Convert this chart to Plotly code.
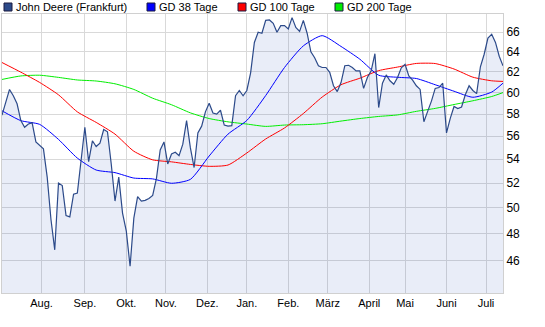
import pandas as pd
import plotly.graph_objects as go

# ---- trading calendar (Frankfurt) ----
holidays = ["2011-12-26", "2012-04-06", "2012-04-09", "2012-05-01"]
trading_days = pd.bdate_range("2011-07-01", "2012-07-13")
trading_days = trading_days[~trading_days.isin(pd.to_datetime(holidays))]

# ---- price series (every 2nd trading day), EUR ----
price = [
    57.9, 59.05, 60.3, 59.7, 58.95, 57.4, 56.8, 57.1, 57.2, 55.5,
    55.2, 54.9, 52.5, 49.1, 46.8, 52.0, 51.8, 49.4, 49.3, 51.1,
    51.2, 54.2, 56.8, 53.8, 55.6, 55.1, 55.4, 56.6, 56.4, 53.6,
    50.55, 52.5, 49.6, 48.2, 45.6, 49.2, 50.9, 50.55, 50.6, 50.75,
    51.0, 52.4, 54.8, 55.5, 53.6, 54.45, 54.6, 54.3, 55.3, 57.4,
    55.0, 53.3, 56.3, 56.9, 58.2, 59.0, 58.1, 58.0, 58.35, 57.0,
    56.9, 56.95, 59.7, 60.2, 59.7, 60.2, 61.9, 64.95, 66.0, 65.9,
    67.25, 67.3, 66.95, 66.0, 66.7, 66.7, 66.35, 67.55, 66.5, 66.1,
    67.25, 65.9, 64.0, 63.4, 62.6, 62.43, 62.43, 61.95, 60.65, 60.1,
    60.96, 62.6, 62.65, 62.43, 62.1, 62.1, 60.4, 61.45, 62.1, 63.8,
    58.6, 60.9, 61.7, 61.13, 60.8, 61.45, 62.4, 62.75, 61.6, 61.2,
    60.65, 60.3, 57.3, 58.25, 59.2, 60.4, 60.48, 60.9, 56.3, 57.6,
    58.7, 58.5, 58.65, 59.8, 60.65, 60.2, 59.9, 62.5, 63.75, 65.4,
    65.8, 64.95, 63.55, 62.6,
]
price_dates = trading_days[0::2][: len(price)]

# ---- moving averages (every 10th trading day + last day) ----
ma_idx = list(range(0, 261, 10)) + [len(trading_days) - 1]
ma_dates = trading_days[ma_idx]
gd38 = [58.30, 57.4, 57.06, 55.72, 54.1, 53.09, 52.87, 52.42, 52.35, 51.99,
        52.31, 54.28, 56.19, 57.42, 59.72, 62.43, 64.6, 65.65, 64.54, 63.25,
        61.67, 61.47, 61.35, 60.75, 60.13, 59.56, 60.05, 60.9]
gd100 = [62.92, 61.97, 60.97, 59.79, 58.2, 57.24, 56.19, 54.69, 53.95, 53.78,
         53.56, 53.4, 53.51, 54.54, 55.76, 56.74, 58.05, 59.58, 60.75, 61.38,
         62.12, 62.47, 62.83, 62.82, 62.28, 61.48, 61.13, 61.07]
gd200 = [61.26, 61.6, 61.67, 61.46, 61.21, 61.11, 60.84, 60.3, 59.47, 58.86,
         58.11, 57.59, 57.29, 57.09, 56.88, 57.0, 57.03, 57.12, 57.36, 57.59,
         57.78, 57.92, 58.25, 58.52, 58.88, 59.23, 59.63, 60.0]

# ---- axis labels ----
month_ticks = ["2011-08-01", "2011-09-01", "2011-10-03", "2011-11-01", "2011-12-01",
               "2012-01-02", "2012-02-01", "2012-03-01", "2012-04-02", "2012-05-02",
               "2012-06-01", "2012-07-02"]
month_labels = ["Aug.", "Sep.", "Okt.", "Nov.", "Dez.", "Jan.", "Feb.", "März",
                "April", "Mai", "Juni", "Juli"]
y_ticks = [46, 48, 50, 52, 54, 56, 58, 60, 62, 64, 66]

series_names = ["John Deere (Frankfurt)", "GD 38 Tage", "GD 100 Tage", "GD 200 Tage"]
series_colors = ["#2c4a8a", "#0000ff", "#ff0000", "#00ee00"]

fig = go.Figure()
fig.add_trace(go.Scatter(x=price_dates, y=price, mode="lines", fill="tozeroy",
                         fillcolor="rgba(40,80,190,0.10)", line=dict(width=0),
                         hoverinfo="skip", showlegend=False))
fig.add_trace(go.Scatter(x=ma_dates, y=gd200, mode="lines", name=series_names[3],
                         line=dict(color=series_colors[3], width=1, shape="spline",
                                   smoothing=0.6), showlegend=False))
fig.add_trace(go.Scatter(x=ma_dates, y=gd100, mode="lines", name=series_names[2],
                         line=dict(color=series_colors[2], width=1, shape="spline",
                                   smoothing=0.6), showlegend=False))
fig.add_trace(go.Scatter(x=ma_dates, y=gd38, mode="lines", name=series_names[1],
                         line=dict(color=series_colors[1], width=1, shape="spline",
                                   smoothing=0.6), showlegend=False))
fig.add_trace(go.Scatter(x=price_dates, y=price, mode="lines", name=series_names[0],
                         line=dict(color=series_colors[0], width=1.2), showlegend=False))

# ---- manual legend (pixel layout of reference) ----
L, R, T, B = 2, 503, 14, 293
W, H = R - L, B - T
def px(x):
    return (x - L) / W
def py(y):
    return (B - y) / H

sq_left = [4, 147, 238, 335]
for name, col, x0 in zip(series_names, series_colors, sq_left):
    fig.add_shape(type="rect", xref="paper", yref="paper",
                  x0=px(x0), x1=px(x0 + 8), y0=py(11), y1=py(3),
                  fillcolor=col, line=dict(color="#1a1a40", width=1))
    fig.add_annotation(xref="paper", yref="paper", x=px(x0 + 10), y=py(7.5),
                       text=name, showarrow=False, xanchor="left", yanchor="middle",
                       font=dict(family="Liberation Sans, Arial, sans-serif", size=11,
                                 color="#000000"))

fig.update_layout(
    width=545, height=327,
    margin=dict(l=L, r=545 - R, t=T, b=327 - B),
    paper_bgcolor="white", plot_bgcolor="white",
    font=dict(family="Liberation Sans, Arial, sans-serif", size=11, color="#000000"),
    showlegend=False,
)
fig.update_xaxes(
    type="date",
    rangebreaks=[dict(bounds=["sat", "mon"]), dict(values=holidays)],
    range=[trading_days[0], trading_days[-1]],
    tickvals=month_ticks, ticktext=month_labels, tickangle=0,
    showgrid=True, gridcolor="#d9d9d9", gridwidth=1,
    showline=True, linecolor="#d0d0d0", linewidth=1, mirror=True,
    ticks="", zeroline=False,
)
fig.update_yaxes(
    type="log", side="right",
    range=[1.6406, 1.8321],
    tickvals=y_ticks, ticktext=[str(v) for v in y_ticks],
    showgrid=True, gridcolor="#d9d9d9", gridwidth=1,
    showline=True, linecolor="#d0d0d0", linewidth=1, mirror=True,
    ticks="", zeroline=False,
    tickfont=dict(size=12),
)

fig.write_html("out.html")
